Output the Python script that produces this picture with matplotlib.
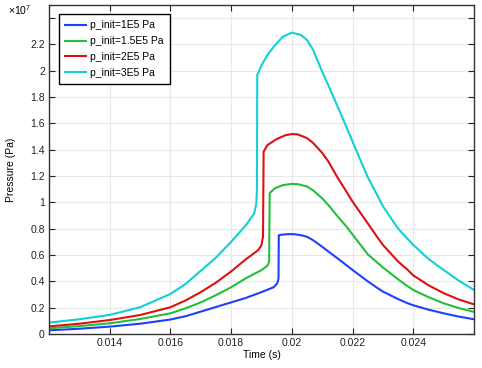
import matplotlib
matplotlib.use("Agg")
import matplotlib.pyplot as plt
from matplotlib.ticker import FuncFormatter

plt.rcParams['font.family'] = ['Liberation Sans', 'DejaVu Sans']
plt.rcParams['mathtext.fontset'] = 'custom'
plt.rcParams['mathtext.rm'] = 'Liberation Sans'

# Pressure values in units of 1e7 Pa
t_1e5 = [0.012, 0.013, 0.014, 0.015, 0.016, 0.0165, 0.017, 0.0175, 0.018, 0.0185, 0.019, 0.0194,
         0.01952, 0.01956, 0.01957, 0.0197, 0.0199, 0.0200, 0.0201, 0.0203, 0.0205, 0.0207,
         0.021, 0.0212, 0.0215, 0.0218, 0.022, 0.0225, 0.0228, 0.023, 0.0235, 0.0238, 0.024,
         0.0245, 0.025, 0.0255, 0.026]
p_1e5 = [0.028, 0.040, 0.056, 0.078, 0.110, 0.135, 0.170, 0.205, 0.240, 0.275, 0.318, 0.355,
         0.385, 0.420, 0.750, 0.755, 0.758, 0.758, 0.757, 0.750, 0.738, 0.712,
         0.662, 0.627, 0.575, 0.522, 0.486, 0.400, 0.352, 0.322, 0.265, 0.235, 0.218,
         0.185, 0.157, 0.132, 0.112]

t_15e5 = [0.012, 0.013, 0.014, 0.015, 0.016, 0.0165, 0.017, 0.0175, 0.018, 0.0185, 0.019, 0.0192,
          0.01925, 0.01927, 0.01944, 0.0197, 0.0200, 0.0202, 0.0205, 0.0207, 0.021,
          0.0212, 0.0215, 0.0218, 0.022, 0.0225, 0.0228, 0.023, 0.0235, 0.0238, 0.024,
          0.0245, 0.025, 0.0255, 0.026]
p_15e5 = [0.043, 0.060, 0.081, 0.114, 0.157, 0.195, 0.240, 0.295, 0.355, 0.425, 0.485, 0.520,
          0.550, 1.070, 1.106, 1.130, 1.140, 1.137, 1.120, 1.090, 1.030,
          0.980, 0.895, 0.815, 0.755, 0.605, 0.545, 0.505, 0.415, 0.365, 0.334,
          0.280, 0.233, 0.197, 0.168]

t_2e5 = [0.012, 0.013, 0.014, 0.015, 0.016, 0.0165, 0.017, 0.0175, 0.018, 0.0185, 0.0189, 0.019,
         0.01905, 0.01907, 0.0192, 0.0195, 0.0198, 0.0200, 0.0202, 0.0205, 0.0207, 0.021,
         0.0212, 0.0215, 0.0218, 0.022, 0.0225, 0.0228, 0.023, 0.0235, 0.0238, 0.024,
         0.0245, 0.025, 0.0255, 0.026]
p_2e5 = [0.058, 0.078, 0.106, 0.144, 0.203, 0.255, 0.318, 0.390, 0.475, 0.570, 0.638, 0.676,
         0.740, 1.384, 1.435, 1.480, 1.510, 1.518, 1.515, 1.487, 1.450, 1.375,
         1.310, 1.190, 1.080, 1.005, 0.840, 0.740, 0.676, 0.550, 0.490, 0.445,
         0.370, 0.310, 0.262, 0.225]

t_3e5 = [0.012, 0.013, 0.014, 0.015, 0.016, 0.0165, 0.017, 0.0175, 0.018, 0.0185, 0.01876, 0.01883,
         0.01885, 0.01886, 0.0189, 0.0190, 0.0192, 0.0194, 0.0197, 0.0200, 0.0203, 0.0205, 0.0207,
         0.021, 0.0212, 0.0215, 0.0218, 0.022, 0.0225, 0.0228, 0.023, 0.0235, 0.0238, 0.024,
         0.0245, 0.025, 0.0255, 0.026]
p_3e5 = [0.086, 0.112, 0.145, 0.203, 0.304, 0.380, 0.480, 0.580, 0.700, 0.830, 0.916, 0.990,
         1.100, 1.970, 1.985, 2.040, 2.120, 2.180, 2.257, 2.288, 2.270, 2.232, 2.157,
         1.990, 1.890, 1.730, 1.570, 1.460, 1.190, 1.060, 0.970, 0.800, 0.725, 0.676,
         0.570, 0.486, 0.405, 0.334]

labels = ["p_init=1E5 Pa", "p_init=1.5E5 Pa", "p_init=2E5 Pa", "p_init=3E5 Pa"]
colors = ["#1f3fff", "#22c03a", "#dd1111", "#11d0d6"]
series = [(t_1e5, p_1e5), (t_15e5, p_15e5), (t_2e5, p_2e5), (t_3e5, p_3e5)]

xticks = [0.014, 0.016, 0.018, 0.020, 0.022, 0.024]
yticks = [0, 0.2, 0.4, 0.6, 0.8, 1.0, 1.2, 1.4, 1.6, 1.8, 2.0, 2.2, 2.4]

fig = plt.figure(figsize=(4.82, 3.68), dpi=100)
ax = fig.add_axes([49/482, 1-334/368, (474-49)/482, (334-4.7)/368])

for (t, p), lab, c in zip(series, labels, colors):
    ax.plot(t, [v*1e7 for v in p], color=c, lw=1.5, label=lab)

ax.set_xlim(0.012, 0.026)
ax.set_ylim(0, 2.5e7)
ax.set_xticks(xticks)
ax.set_yticks([v*1e7 for v in yticks])
ax.xaxis.set_major_formatter(FuncFormatter(lambda v, pos: f"{round(v, 6):g}"))
ax.yaxis.set_major_formatter(FuncFormatter(
    lambda v, pos: "" if abs(v/1e7 - 2.4) < 1e-6 else f"{round(v/1e7, 6):g}"))

ax.tick_params(direction="in", top=True, right=True, length=4, width=0.8,
               labelsize=7.5, colors="#222222", pad=3)
ax.grid(True, color="#e8e8e8", lw=0.8)
ax.set_axisbelow(True)
for s in ax.spines.values():
    s.set_color("#333333")
    s.set_linewidth(1.0)

ax.set_xlabel("Time (s)", fontsize=7.5, labelpad=1)
ax.set_ylabel("Pressure (Pa)", fontsize=7.5, labelpad=10)
fig.text(8/482, 1-10/368, r"$\times10^{7}$", fontsize=7.5, ha="left", va="center")

leg = ax.legend(loc="upper left", bbox_to_anchor=(10/425, 1-9.5/329.3), fontsize=7.5,
                frameon=True, fancybox=False, framealpha=1, edgecolor="black",
                handlelength=2.0, handletextpad=0.4, borderaxespad=0, labelspacing=0.55,
                borderpad=0.6)
leg.get_frame().set_linewidth(1.0)

fig.savefig("out.png", dpi=100)
